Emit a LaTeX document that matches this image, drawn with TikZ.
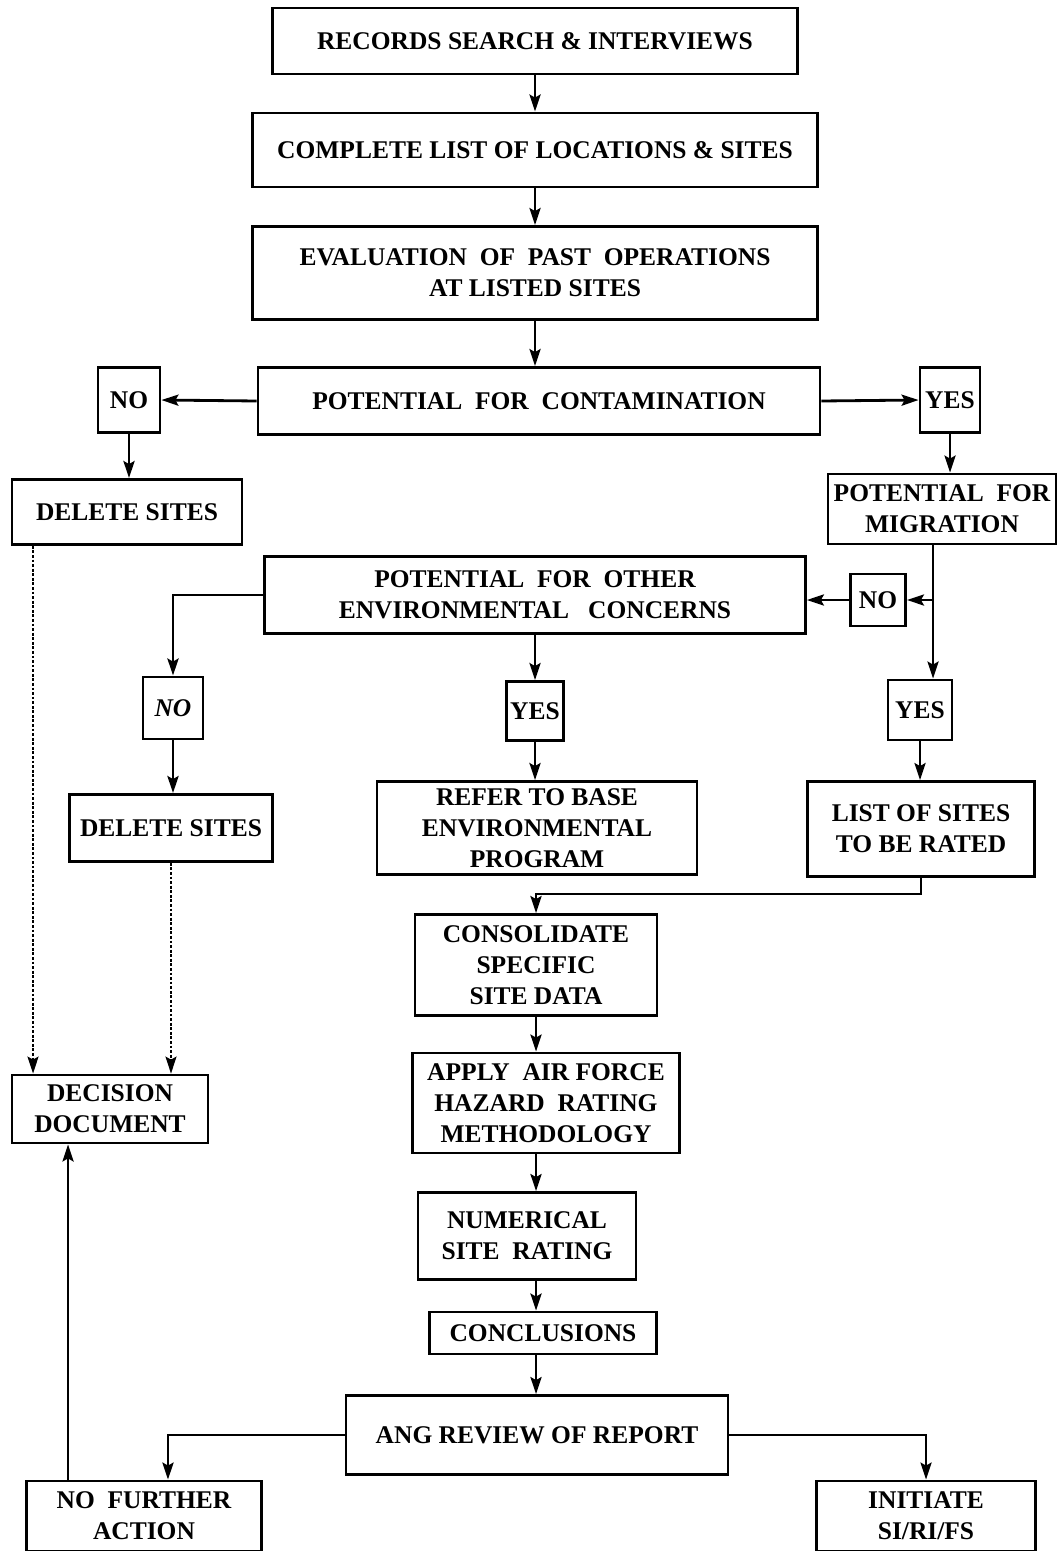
\documentclass[tikz,border=0pt]{standalone}
\usepackage{fontspec}
\setmainfont{Liberation Serif}
\usepackage{tikz}
\usetikzlibrary{arrows.meta}
\tikzset{>={Stealth[length=3.4mm,width=2.2mm,inset=0.6mm]}}

\begin{document}
\begin{tikzpicture}[x=0.02cm, y=-0.02cm]
                        % boxes are placed at pixel positions, w/h = box size
                        \tikzset{box/.style={draw=black, line width=1.6pt, align=center, inner sep=2pt,
                                 font=\fontsize{14.5}{17.6}\selectfont\bfseries}}
                        \tikzset{every path/.style={line width=1.6pt}}
                        \useasboundingbox (0,0) rectangle (1058,1551);

                        \node[box, minimum width=10.5cm, minimum height=1.32cm] (rec) at (535,41) {RECORDS SEARCH \& INTERVIEWS};
                        \node[box, minimum width=11.3cm, minimum height=1.48cm] (list) at (535,150) {COMPLETE LIST OF LOCATIONS \& SITES};
                        \node[box, minimum width=11.3cm, minimum height=1.86cm] (eval) at (535,273) {EVALUATION~ OF~ PAST~ OPERATIONS\\AT LISTED SITES};
                        \node[box, minimum width=11.24cm, minimum height=1.34cm] (contam) at (539,401) {POTENTIAL~ FOR~ CONTAMINATION};
                        \node[box, minimum width=1.24cm, minimum height=1.3cm] (noA) at (129,400) {NO};
                        \node[box, minimum width=1.2cm, minimum height=1.3cm] (yesA) at (950,400) {YES};
                        \node[box, minimum width=4.6cm, minimum height=1.3cm] (delA) at (127,512) {DELETE SITES};
                        \node[box, minimum width=4.56cm, minimum height=1.4cm] (migr) at (942,509) {POTENTIAL~ FOR\\MIGRATION};
                        \node[box, minimum width=10.82cm, minimum height=1.54cm] (other) at (535,595) {POTENTIAL~ FOR~ OTHER\\ENVIRONMENTAL~~ CONCERNS};
                        \node[box, minimum width=1.1cm, minimum height=1.04cm] (noB) at (878,600) {NO};
                        \node[box, minimum width=1.2cm, minimum height=1.24cm] (noC) at (173,708) {\itshape NO};
                        \node[box, minimum width=1.12cm, minimum height=1.18cm] (yesB) at (535,711) {YES};
                        \node[box, minimum width=1.28cm, minimum height=1.2cm] (yesC) at (920,710) {YES};
                        \node[box, minimum width=4.06cm, minimum height=1.34cm] (delB) at (171,828) {DELETE SITES};
                        \node[box, minimum width=6.4cm, minimum height=1.86cm] (refer) at (537,828) {REFER TO BASE\\ENVIRONMENTAL\\PROGRAM};
                        \node[box, minimum width=4.54cm, minimum height=1.9cm] (rated) at (921,829) {LIST OF SITES\\TO BE RATED};
                        \node[box, minimum width=4.84cm, minimum height=2.02cm] (consol) at (536,965) {CONSOLIDATE\\SPECIFIC\\SITE DATA};
                        \node[box, minimum width=3.92cm, minimum height=1.36cm] (decision) at (110,1109) {DECISION\\DOCUMENT};
                        \node[box, minimum width=5.34cm, minimum height=2cm] (apply) at (546,1103) {APPLY~ AIR FORCE\\HAZARD~ RATING\\METHODOLOGY};
                        \node[box, minimum width=4.36cm, minimum height=1.74cm] (numer) at (527,1236) {NUMERICAL\\SITE~ RATING};
                        \node[box, minimum width=4.54cm, minimum height=0.84cm] (concl) at (543,1333) {CONCLUSIONS};
                        \node[box, minimum width=7.64cm, minimum height=1.58cm] (ang) at (537,1435) {ANG REVIEW OF REPORT};
                        \node[box, minimum width=4.7cm, minimum height=1.4cm] (nofurther) at (144,1516) {NO~ FURTHER\\ACTION};
                        \node[box, minimum width=4.38cm, minimum height=1.4cm] (initiate) at (926,1516) {INITIATE\\SI/RI/FS};

                        % main line down
                        \draw[->] (rec.south) -- (rec.south |- list.north);
                        \draw[->] (list.south) -- (list.south |- eval.north);
                        \draw[->] (eval.south) -- (eval.south |- contam.north);

                        \draw[->] (contam.west) -- (noA.east);
                        \draw[->] (contam.east) -- (yesA.west);
                        \draw[->] (noA.south) -- (noA.south |- delA.north);
                        \draw[->] (yesA.south) -- (yesA.south |- migr.north);

                        \coordinate (mj) at (933,600);
                        \draw (mj |- migr.south) -- (mj);
                        \draw[->] (mj) -- (noB.east);
                        \draw[->] (mj) -- (mj |- yesC.north);
                        \draw[->] (noB.west) -- (noB.west -| other.east);

                        \draw[->] (other.west) -| (noC.north);
                        \draw[->] (other.south) -- (other.south |- yesB.north);
                        \draw[->] (noC.south) -- (noC.south |- delB.north);
                        \draw[->] (yesB.south) -- (yesB.south |- refer.north);
                        \draw[->] (yesC.south) -- (yesC.south |- rated.north);

                        \draw[->] (rated.south) -- ++(0,16) -| (consol.north);
                        \draw[->] (consol.south) -- (consol.south |- apply.north);
                        \draw[->] (consol.south |- apply.south) -- (consol.south |- numer.north);
                        \draw[->] (consol.south |- numer.south) -- (consol.south |- concl.north);
                        \draw[->] (consol.south |- concl.south) -- (consol.south |- ang.north);

                        \draw[->] (ang.west) -| ([xshift=0.48cm]nofurther.north);
                        \draw[->] (ang.east) -| (initiate.north);

                        \coordinate (nfa) at ([xshift=-1.52cm]nofurther.north);
                        \draw[->] (nfa) -- (nfa |- decision.south);

                        % dotted lines to decision document
                        \coordinate (dla) at ([xshift=-1.88cm]delA.south);
                        \draw[->, densely dotted, line width=1.2pt] (dla) -- (dla |- decision.north);
                        \draw[->, densely dotted, line width=1.2pt] (delB.south) -- (delB.south |- decision.north);
\end{tikzpicture}
\end{document}
